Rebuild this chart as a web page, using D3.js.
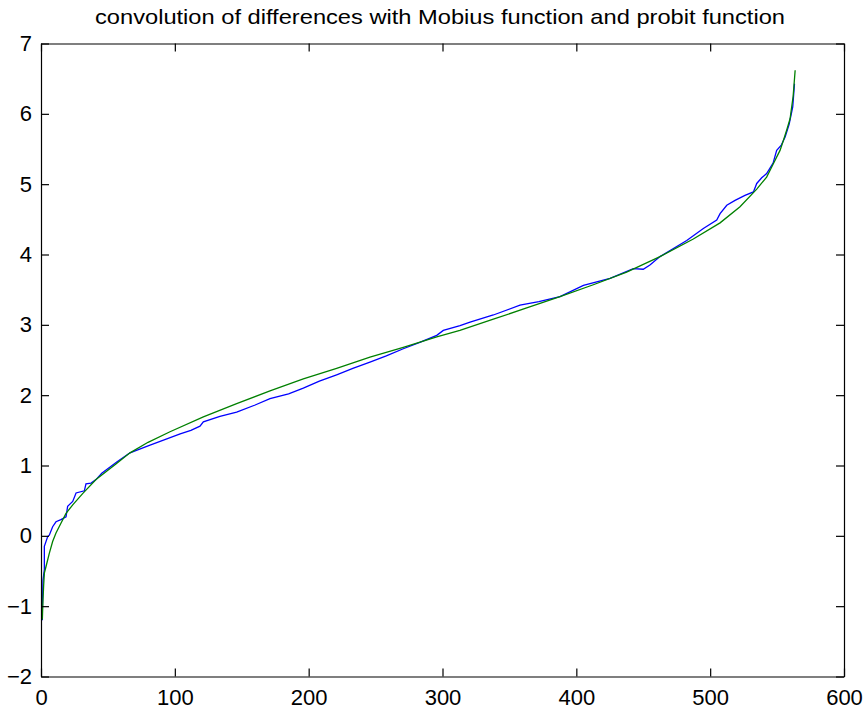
<!DOCTYPE html>
<html>
<head>
<meta charset="utf-8">
<script src="https://cdn.jsdelivr.net/npm/d3@7"></script>
<style>
  html, body { margin: 0; padding: 0; background: #fff; }
  svg { display: block; }
  text { font-family: "Liberation Sans", Arial, Helvetica, sans-serif; fill: #000; }
</style>
</head>
<body>
<svg id="chart" width="867" height="713"></svg>
<script>
// ---- data ----
const titleText = "convolution of differences with Mobius function and probit function";
const xTicks = [0, 100, 200, 300, 400, 500, 600];
const yTicks = [-2, -1, 0, 1, 2, 3, 4, 5, 6, 7];

// blue: convolution of differences with Mobius function
const blueX = [1, 1, 1.5, 2.5, 2.5, 5, 6.2, 8.7, 11.2, 14.9, 18.7, 19.9, 23.7, 26.2, 32.4, 33.6, 37.4, 41.1,
  45.4, 56.6, 66.5, 80, 91.5, 104, 112, 118.8, 121.3, 133.7, 146.2, 160, 171.1, 185, 196, 208, 220.9,
  233, 245.8, 258, 270.7, 283, 295.7, 300.6, 313.1, 320.6, 338, 357.9, 372, 387.8, 405.3, 425.2, 442.6,
  450, 455, 462.5, 482.5, 494.9, 504.9, 507.4, 512.4, 518.6, 526, 532.3, 534.8, 538.5, 542.2, 547,
  549.7, 553, 556, 559, 561.7, 562.5, 563];
const blueY = [-1.2, -1.05, -0.63, -0.48, -0.15, -0.01, 0.01, 0.13, 0.20, 0.23, 0.27, 0.42, 0.49, 0.61, 0.64, 0.74, 0.75, 0.80,
  0.89, 1.05, 1.18, 1.28, 1.36, 1.45, 1.50, 1.56, 1.62, 1.70, 1.76, 1.86, 1.95, 2.02, 2.10, 2.20, 2.29,
  2.38, 2.47, 2.56, 2.66, 2.75, 2.85, 2.92, 2.99, 3.04, 3.14, 3.28, 3.33, 3.40, 3.56, 3.66, 3.80,
  3.79, 3.85, 3.97, 4.20, 4.37, 4.49, 4.58, 4.70, 4.77, 4.84, 4.89, 5.01, 5.09, 5.15, 5.30,
  5.48, 5.55, 5.67, 5.85, 6.10, 6.30, 6.43];

// green: probit function
const greenX = [1, 1.5, 2, 2.5, 3.7, 6.2, 8.7, 11.2, 14.9, 18.7, 23.7, 31.1, 41.1, 56, 66.5, 80, 96.4,
  121.3, 146.2, 171.1, 196, 220.9, 245.8, 270.7, 295.7, 313, 338, 362.9, 387.8, 412.7, 437.6, 462.5,
  487.4, 507.4, 522.3, 534.8, 542.2, 547.2, 552.2, 554.7, 557.2, 559.7, 562, 563.5];
const greenY = [-1.19, -0.9, -0.7, -0.53, -0.44, -0.25, -0.08, 0.04, 0.18, 0.32, 0.44, 0.60, 0.80, 1.02, 1.18, 1.33, 1.48,
  1.69, 1.88, 2.06, 2.23, 2.38, 2.54, 2.68, 2.83, 2.92, 3.08, 3.24, 3.40, 3.57, 3.75, 3.97,
  4.22, 4.45, 4.68, 4.93, 5.10, 5.29, 5.48, 5.62, 5.77, 5.93, 6.25, 6.62];

// ---- drawing ----
const svg = d3.select("#chart");
const mLeft = 41, mRight = 844, mTop = 43.5, mBottom = 676.5;
const x = d3.scaleLinear().domain([0, 600]).range([mLeft, mRight]);
const y = d3.scaleLinear().domain([-2, 7]).range([mBottom, mTop]);
const FS = 22;

svg.append("rect").attr("width", 867).attr("height", 713).attr("fill", "#fff");

// series
const line = d3.line().x(d => x(d[0])).y(d => y(d[1]));
const blue = blueX.map((v, i) => [v, blueY[i]]);
const green = greenX.map((v, i) => [v, greenY[i]]);

svg.append("path").datum(blue).attr("d", line)
  .attr("fill", "none").attr("stroke", "#0000ff").attr("stroke-width", 1.3);
svg.append("path").datum(green).attr("d", line)
  .attr("fill", "none").attr("stroke", "#008000").attr("stroke-width", 1.3);

// axes
function styleAxis(g) {
  g.attr("font-family", null).attr("font-size", null);
  g.selectAll("path.domain").attr("stroke", "#000").attr("stroke-width", 1.2);
  g.selectAll(".tick line").attr("stroke", "#000").attr("stroke-width", 1.2);
  g.selectAll("text").style("font-size", FS + "px")
    .style("font-family", '"Liberation Sans", Arial, sans-serif').attr("fill", "#000");
}

svg.append("g").attr("transform", `translate(0,${mBottom})`)
  .call(d3.axisBottom(x).tickValues(xTicks).tickSize(-8).tickSizeOuter(0).tickPadding(13).tickFormat(d3.format("d")))
  .call(styleAxis);
svg.append("g").attr("transform", `translate(0,${mTop})`)
  .call(d3.axisTop(x).tickValues(xTicks).tickSize(-8).tickSizeOuter(0).tickFormat(""))
  .call(styleAxis);
svg.append("g").attr("transform", `translate(${mLeft},0)`)
  .call(d3.axisLeft(y).tickValues(yTicks).tickSize(-8).tickSizeOuter(0).tickPadding(9).tickFormat(d3.format("d")))
  .call(styleAxis);
svg.append("g").attr("transform", `translate(${mRight},0)`)
  .call(d3.axisRight(y).tickValues(yTicks).tickSize(-8).tickSizeOuter(0).tickFormat(""))
  .call(styleAxis);

// title
const t = svg.append("text")
  .attr("x", 440).attr("y", 24)
  .attr("text-anchor", "middle")
  .style("font-size", "21px")
  .text(titleText);
const w = t.node().getComputedTextLength();
if (Math.abs(w - 690) > 10) t.attr("textLength", 690).attr("lengthAdjust", "spacingAndGlyphs");
</script>
</body>
</html>
